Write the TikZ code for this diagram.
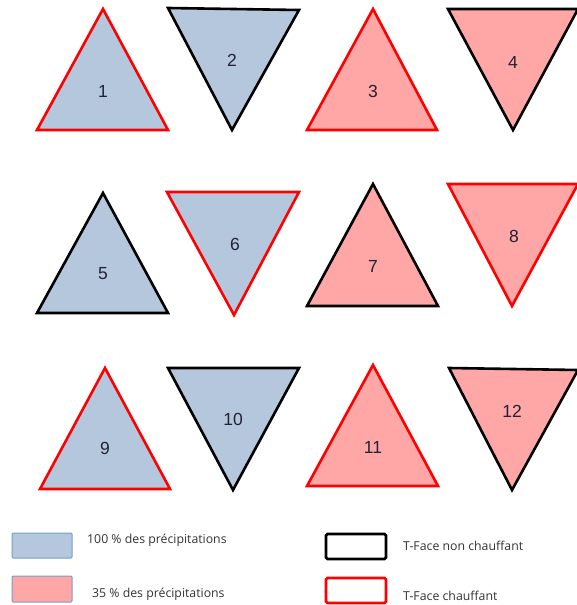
\documentclass[tikz,border=0pt]{standalone}
\usepackage{fontspec}
\setmainfont{Liberation Sans}
\newfontfamily\legfont{Open Sans}
\definecolor{tblue}{HTML}{B4C7DC}
\definecolor{tpink}{HTML}{FFA6A6}
\definecolor{tred}{HTML}{FF0000}
\definecolor{tnum}{HTML}{222233}
\definecolor{lgborder}{HTML}{729FCF}
\tikzset{
  tri/.style={line width=2.6pt, line join=miter, miter limit=10},
  blueF/.style={fill=tblue},
  pinkF/.style={fill=tpink},
  redE/.style={draw=tred},
  blackE/.style={draw=black},
  num/.style={font=\fontsize{17.5}{17.5}\selectfont, text=tnum, inner sep=0pt},
  leg/.style={font=\legfont\fontsize{12.3}{14}\selectfont, text=black!80, anchor=west, inner sep=0pt},
}
\begin{document}
\begin{tikzpicture}[x=1pt,y=-1pt]
\useasboundingbox (0,0) rectangle (577,605);
% row 1
\draw[tri,blueF,redE]   (103,9) -- (37,130) -- (168,130) -- cycle;
\draw[tri,blueF,blackE] (168,8) -- (299,10) -- (232,130) -- cycle;
\draw[tri,pinkF,redE]   (373,9) -- (307,130) -- (437,130) -- cycle;
\draw[tri,pinkF,blackE] (448,9) -- (578,9) -- (513,130) -- cycle;
% row 2
\draw[tri,blueF,blackE] (103,193) -- (37,313) -- (168,313) -- cycle;
\draw[tri,blueF,redE]   (167,192) -- (299,192) -- (234,315) -- cycle;
\draw[tri,pinkF,blackE] (373,184) -- (307,306) -- (438,306) -- cycle;
\draw[tri,pinkF,redE]   (448,184) -- (578,184) -- (512,306) -- cycle;
% row 3
\draw[tri,blueF,redE]   (105,368) -- (40,489) -- (170,489) -- cycle;
\draw[tri,blueF,blackE] (168,368) -- (299,368) -- (233,490) -- cycle;
\draw[tri,pinkF,redE]   (373,365) -- (307,486) -- (438,486) -- cycle;
\draw[tri,pinkF,blackE] (449,368) -- (578,370) -- (512,490) -- cycle;
% labels
\node[num] (n1)  at (103,91)  {1};
\node[num] (n2)  at (232,60)  {2};
\node[num] (n3)  at (373,91)  {3};
\node[num] (n4)  at (513,62)  {4};
\node[num] (n5)  at (103,274) {5};
\node[num] (n6)  at (235,244) {6};
\node[num] (n7)  at (373,266) {7};
\node[num] (n8)  at (514,236) {8};
\node[num] (n9)  at (105,448) {9};
\node[num] (n10) at (233,419) {10};
\node[num] (n11) at (373,447) {11};
\node[num] (n12) at (512,411) {12};
% legend
\draw[fill=tblue, draw=lgborder, line width=1pt, rounded corners=1pt] (12,533) rectangle (72,558);
\draw[fill=tpink, draw=lgborder, line width=1pt, rounded corners=1pt] (12,576) rectangle (72,602);
\draw[draw=black, line width=2.6pt, rounded corners=1.5pt] (326,534) rectangle (386,559);
\draw[draw=tred, line width=2.6pt, rounded corners=1.5pt] (326,578) rectangle (386,603);
\node[leg] (l1) at (87,540)  {100 \% des précipitations};
\node[leg] (l2) at (92,594)  {35 \% des précipitations};
\node[leg] (l3) at (403,546) {T-Face non chauffant};
\node[leg] (l4) at (403,596) {T-Face chauffant};
\end{tikzpicture}
\end{document}
